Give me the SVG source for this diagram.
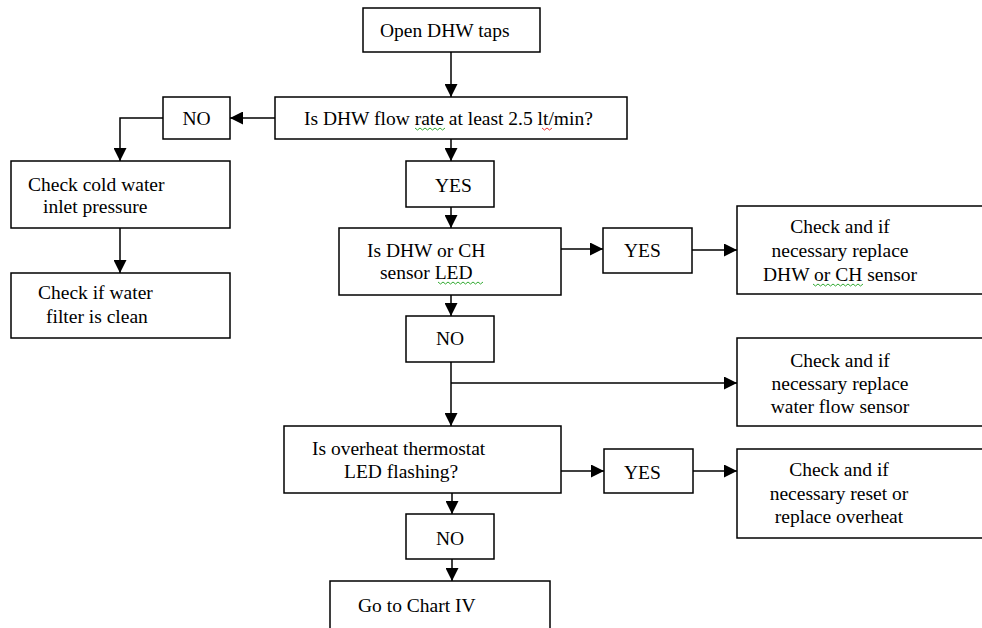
<svg xmlns="http://www.w3.org/2000/svg" width="982" height="628" viewBox="0 0 982 628" font-family="'Liberation Serif', 'DejaVu Serif', serif">
<style>
.box{fill:#fff;stroke:#000;stroke-width:1.5}
.t{font-family:'Liberation Serif', 'DejaVu Serif', serif;font-size:19.5px;fill:#000}
.c{text-anchor:middle}
.ln{fill:none;stroke:#000;stroke-width:1.5}
.sq{fill:none;stroke-width:1}
</style>
<defs>
<marker id="ah" markerUnits="userSpaceOnUse" markerWidth="13" markerHeight="13" refX="13" refY="6.5" orient="auto">
<path d="M0,0 L13,6.5 L0,13 z" fill="#000"/>
</marker>
</defs>
<rect width="982" height="628" fill="#fff"/>
<g id="connectors">
<path class="ln" d="M451,52 V97" marker-end="url(#ah)"/>
<path class="ln" d="M275,118 H230" marker-end="url(#ah)"/>
<path class="ln" d="M163,118 H120 V161" marker-end="url(#ah)"/>
<path class="ln" d="M120,228 V273" marker-end="url(#ah)"/>
<path class="ln" d="M451,139 V161" marker-end="url(#ah)"/>
<path class="ln" d="M451,207 V228" marker-end="url(#ah)"/>
<path class="ln" d="M561,249 H603" marker-end="url(#ah)"/>
<path class="ln" d="M692,250 H737" marker-end="url(#ah)"/>
<path class="ln" d="M451,295 V316" marker-end="url(#ah)"/>
<path class="ln" d="M451,362 V426" marker-end="url(#ah)"/>
<path class="ln" d="M451,383 H737" marker-end="url(#ah)"/>
<path class="ln" d="M561,471 H604" marker-end="url(#ah)"/>
<path class="ln" d="M693,471 H737" marker-end="url(#ah)"/>
<path class="ln" d="M452,493 V514" marker-end="url(#ah)"/>
<path class="ln" d="M452,559 V581" marker-end="url(#ah)"/>
</g>
<g id="open-taps">
<rect class="box" x="363" y="8" width="177" height="44"/>
<text class="t" x="380" y="37">Open DHW taps</text>
</g>
<g id="q-flow">
<rect class="box" x="275" y="97" width="352" height="42"/>
<text class="t" x="304" y="125">Is DHW flow rate at least 2.5 lt/min?</text>
<path class="sq" stroke="#3a3" d="M415,128 l2.5,2 l2.5,-2 l2.5,2 l2.5,-2 l2.5,2 l2.5,-2 l2.5,2 l2.5,-2 l2.5,2 l2.5,-2 l2.5,2 l2.5,-2"/>
<path class="sq" stroke="#e33" d="M542,128 l2.5,2 l2.5,-2 l2.5,2 l2.5,-2"/>
</g>
<g id="no-1">
<rect class="box" x="163" y="97" width="67" height="42"/>
<text class="t c" x="196.5" y="125">NO</text>
</g>
<g id="check-cold">
<rect class="box" x="11" y="161" width="219" height="67"/>
<text class="t" x="28" y="191">Check cold water</text>
<text class="t" x="43" y="213">inlet pressure</text>
</g>
<g id="check-filter">
<rect class="box" x="11" y="273" width="219" height="65"/>
<text class="t" x="38" y="299">Check if water</text>
<text class="t" x="46" y="323">filter is clean</text>
</g>
<g id="yes-1">
<rect class="box" x="406" y="161" width="88" height="46"/>
<text class="t" x="435" y="192">YES</text>
</g>
<g id="q-sensor">
<rect class="box" x="339" y="228" width="222" height="67"/>
<text class="t" x="367" y="257">Is DHW or CH</text>
<text class="t" x="380" y="279">sensor LED</text>
<path class="sq" stroke="#3a3" d="M438,282 l2.5,2 l2.5,-2 l2.5,2 l2.5,-2 l2.5,2 l2.5,-2 l2.5,2 l2.5,-2 l2.5,2 l2.5,-2 l2.5,2 l2.5,-2 l2.5,2 l2.5,-2 l2.5,2 l2.5,-2 l2.5,2 l2.5,-2"/>
</g>
<g id="yes-2">
<rect class="box" x="603" y="228" width="89" height="45"/>
<text class="t" x="624" y="257">YES</text>
</g>
<g id="replace-sensor">
<rect class="box" x="737" y="206" width="260" height="88"/>
<text class="t c" x="840" y="233">Check and if</text>
<text class="t c" x="840" y="257">necessary replace</text>
<text class="t c" x="840" y="281">DHW or CH sensor</text>
<path class="sq" stroke="#3a3" d="M813,284 l2.5,2 l2.5,-2 l2.5,2 l2.5,-2 l2.5,2 l2.5,-2 l2.5,2 l2.5,-2 l2.5,2 l2.5,-2 l2.5,2 l2.5,-2 l2.5,2 l2.5,-2 l2.5,2 l2.5,-2 l2.5,2 l2.5,-2 l2.5,2 l2.5,-2"/>
</g>
<g id="no-2">
<rect class="box" x="406" y="316" width="88" height="46"/>
<text class="t c" x="450" y="345">NO</text>
</g>
<g id="replace-flow">
<rect class="box" x="737" y="338" width="260" height="88"/>
<text class="t c" x="840" y="367">Check and if</text>
<text class="t c" x="840" y="390">necessary replace</text>
<text class="t c" x="840" y="413">water flow sensor</text>
</g>
<g id="q-overheat">
<rect class="box" x="284" y="426" width="277" height="67"/>
<text class="t" x="312" y="455">Is overheat thermostat</text>
<text class="t" x="344" y="478">LED flashing?</text>
</g>
<g id="yes-3">
<rect class="box" x="604" y="449" width="89" height="44"/>
<text class="t" x="624" y="479">YES</text>
</g>
<g id="reset-overheat">
<rect class="box" x="737" y="449" width="260" height="89"/>
<text class="t c" x="839" y="476">Check and if</text>
<text class="t c" x="839" y="500">necessary reset or</text>
<text class="t c" x="839" y="523">replace overheat</text>
</g>
<g id="no-3">
<rect class="box" x="406" y="514" width="88" height="45"/>
<text class="t c" x="450" y="545">NO</text>
</g>
<g id="chart-iv">
<rect class="box" x="330" y="581" width="220" height="60"/>
<text class="t" x="358" y="612">Go to Chart IV</text>
</g>
</svg>
